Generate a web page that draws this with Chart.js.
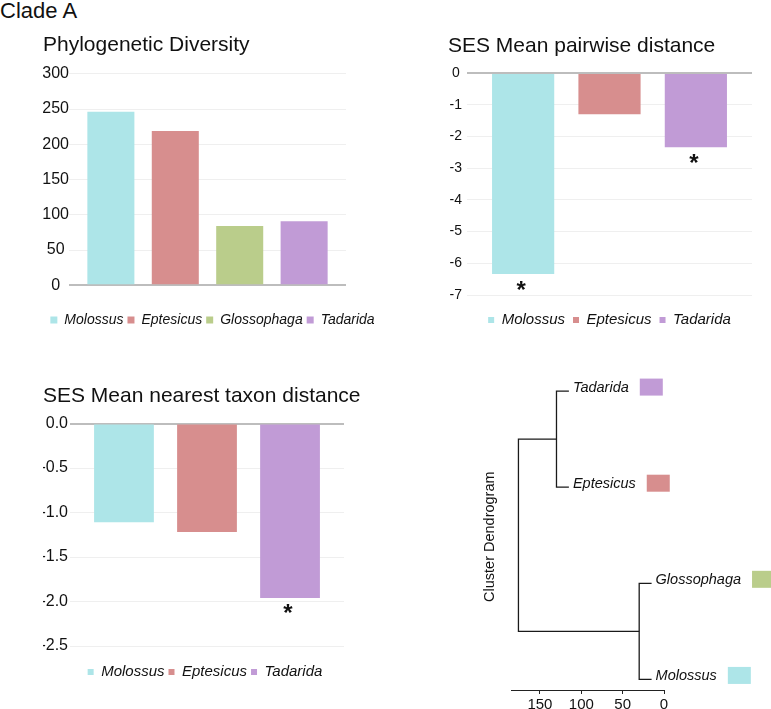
<!DOCTYPE html>
<html>
<head>
<meta charset="utf-8">
<title>Clade A</title>
<script src="https://cdn.jsdelivr.net/npm/chart.js@4.4.1/dist/chart.umd.min.js"></script>
<style>
  body { margin: 0; background: #fff; font-family: 'Liberation Sans', Arial, Helvetica, sans-serif; }
  #wrap { position: relative; width: 771px; height: 709px; overflow: hidden; }
  .panel { position: absolute; }
  #clade { position: absolute; left: 0; top: -1px; font-size: 22px; color: #111; line-height: 24px; }
</style>
</head>
<body>
<div id="wrap">
  <div id="clade">Clade A</div>
  <div class="panel" style="left:0;top:24px;width:382px;height:316px"><canvas id="pd"></canvas></div>
  <div class="panel" style="left:400px;top:24px;width:371px;height:316px"><canvas id="mpd"></canvas></div>
  <div class="panel" style="left:0;top:340px;width:367px;height:369px"><canvas id="mntd"></canvas></div>
  <div class="panel" style="left:460px;top:340px;width:311px;height:369px"><canvas id="dendro"></canvas></div>
</div>
<script>
// Phylogenetic diversity per genus
const pdGenera = ['Molossus', 'Eptesicus', 'Glossophaga', 'Tadarida'];
const pdValues = [246, 219, 84, 91];

// standardized effect sizes (asterisk = significant)
const sesGenera = ['Molossus', 'Eptesicus', 'Tadarida'];
const mpdValues = [-6.34, -1.30, -2.34];
const mpdSignificant = [true, false, true];
const mntdValues = [-1.11, -1.22, -1.96];
const mntdSignificant = [false, false, true];

// cluster dendrogram, leaves listed bottom to top
const treeLeaves = ['Molossus', 'Glossophaga', 'Eptesicus', 'Tadarida'];
const leafHeights = [15, 15, 115, 115];
// hclust style merges: negative = leaf number, positive = earlier merge
const treeMerges = [[-1, -2], [-3, -4], [1, 2]];
const mergeHeights = [30, 130, 176];

const genusColors = {
    Molossus: '#ade5e8',
    Eptesicus: '#d78e8e',
    Glossophaga: '#bacd8b',
    Tadarida: '#c19bd6'
};

const FONT = "'Liberation Sans', Arial, Helvetica, sans-serif";
Chart.defaults.font.family = FONT;
Chart.defaults.color = '#111';
Chart.defaults.animation = false;

const asteriskPlugin = {
    id: 'asterisks',
    afterDatasetsDraw(chart, args, opts) {
        const ctx = chart.ctx;
        const bars = chart.getDatasetMeta(0).data;
        ctx.save();
        ctx.font = 'bold 24px ' + FONT;
        ctx.fillStyle = '#111';
        ctx.textAlign = 'center';
        ctx.textBaseline = 'alphabetic';
        const m = ctx.measureText('*');
        const lift = (m.actualBoundingBoxAscent - m.actualBoundingBoxDescent) / 2;
        bars.forEach((bar, i) => {
            if (opts.marks && opts.marks[i]) {
                ctx.fillText('*', bar.x - 2, bar.y + 11 + lift);
            }
        });
        ctx.restore();
    }
};

const makeBarChart = (id, cfg) => {
    const colors = cfg.genera.map(g => genusColors[g]);
    return new Chart(document.getElementById(id), {
        type: 'bar',
        data: {
            datasets: [{
                data: cfg.values.map((v, i) => ({ x: i, y: v })),
                backgroundColor: colors,
                borderWidth: 0,
                barPercentage: cfg.barPct,
                categoryPercentage: 1
            }]
        },
        plugins: [asteriskPlugin],
        options: {
            responsive: true,
            maintainAspectRatio: false,
            layout: { padding: cfg.padding },
            plugins: {
                tooltip: { enabled: false },
                asterisks: { marks: cfg.marks || [] },
                title: {
                    display: true,
                    text: cfg.title,
                    align: 'start',
                    color: '#111',
                    font: { size: 21, weight: 'normal' },
                    padding: cfg.titlePad
                },
                legend: {
                    position: 'bottom',
                    labels: {
                        font: { size: cfg.legendSize, style: 'italic' },
                        color: '#111',
                        boxWidth: cfg.legendBox,
                        boxHeight: cfg.legendBox,
                        padding: cfg.legendPad,
                        generateLabels: () => cfg.genera.map((g, i) => ({
                            text: g,
                            fillStyle: genusColors[g],
                            strokeStyle: genusColors[g],
                            lineWidth: 0,
                            hidden: false,
                            index: i,
                            fontColor: '#111'
                        }))
                    }
                }
            },
            scales: {
                x: {
                    type: 'linear',
                    offset: false,
                    // bars sit a bit inside the gridlines, like the original spreadsheet chart
                    min: -0.65,
                    max: cfg.genera.length - 0.35,
                    display: true,
                    ticks: { display: false, stepSize: 1, includeBounds: false },
                    grid: { display: false },
                    border: { display: false },
                    afterFit: s => { s.height = cfg.xHeight; }
                },
                y: {
                    min: cfg.min,
                    max: cfg.max,
                    ticks: {
                        stepSize: cfg.step,
                        font: { size: cfg.tickSize },
                        color: '#111',
                        crossAlign: cfg.crossAlign,
                        padding: cfg.tickPad,
                        callback: cfg.tickFmt || (v => v)
                    },
                    grid: {
                        drawTicks: false,
                        tickLength: 0,
                        color: c => c.tick && c.tick.value === 0 ? '#bdbdbd' : '#efefef',
                        lineWidth: c => c.tick && c.tick.value === 0 ? 2 : 1
                    },
                    border: { display: false },
                    afterFit: s => { s.width = cfg.yWidth; }
                },
                yR: {
                    type: 'linear',
                    position: 'right',
                    display: true,
                    ticks: { display: false },
                    grid: { display: false },
                    border: { display: false },
                    afterFit: s => { s.width = cfg.rightWidth; }
                }
            }
        }
    });
};

makeBarChart('pd', {
    genera: pdGenera, values: pdValues, title: 'Phylogenetic Diversity',
    min: 0, max: 300, step: 50, tickSize: 16, crossAlign: 'center', tickPad: 0,
    yWidth: 26, rightWidth: 36, xHeight: 23.7, barPct: 0.73,
    padding: { left: 43, right: 0, top: 0, bottom: 3 },
    titlePad: { top: 8.6, bottom: 16 },
    legendSize: 14, legendBox: 7, legendPad: 4
});

makeBarChart('mpd', {
    genera: sesGenera, values: mpdValues, marks: mpdSignificant, title: 'SES Mean pairwise distance',
    min: -7, max: 0, step: 1, tickSize: 14, crossAlign: 'center', tickPad: 5,
    yWidth: 19, rightWidth: 19, xHeight: 9.5, barPct: 0.72,
    padding: { left: 48, right: 0, top: 0, bottom: 2.5 },
    titlePad: { top: 9.6, bottom: 14.3 },
    legendSize: 15, legendBox: 6, legendPad: 8
});

makeBarChart('mntd', {
    genera: sesGenera, values: mntdValues, marks: mntdSignificant, title: 'SES Mean nearest taxon distance',
    min: -2.5, max: 0, step: 0.5, tickSize: 16, crossAlign: 'near', tickPad: 2,
    tickFmt: v => v.toFixed(1),
    yWidth: 27, rightWidth: 23, xHeight: 14.5, barPct: 0.72,
    padding: { left: 43, right: 0, top: 0, bottom: 19.5 },
    titlePad: { top: 43.4, bottom: 14.9 },
    legendSize: 15, legendBox: 6, legendPad: 4
});

// dendrogram: turn merges into elbow segments
const nodeOf = ref => {
    if (ref < 0) {
        return { h: leafHeights[-ref - 1], y: -ref };
    }
    const [a, b] = treeMerges[ref - 1].map(nodeOf);
    return { h: mergeHeights[ref - 1], y: (a.y + b.y) / 2 };
};

const treeSegments = treeMerges.map((pair, m) => {
    const [a, b] = pair.map(nodeOf);
    const h = mergeHeights[m];
    return {
        data: [{ x: a.h, y: a.y }, { x: h, y: a.y }, { x: h, y: b.y }, { x: b.h, y: b.y }],
        showLine: true,
        borderColor: '#1a1a1a',
        borderWidth: 1.3,
        pointRadius: 0,
        tension: 0
    };
});

const leafLabelPlugin = {
    id: 'leafLabels',
    afterDatasetsDraw(chart) {
        const ctx = chart.ctx;
        const xs = chart.scales.x;
        const ys = chart.scales.y;
        ctx.save();
        ctx.font = 'italic 14.5px ' + FONT;
        ctx.textAlign = 'left';
        ctx.textBaseline = 'alphabetic';
        treeLeaves.forEach((leaf, i) => {
            const px = xs.getPixelForValue(leafHeights[i]) + 4;
            const py = ys.getPixelForValue(i + 1);
            ctx.fillStyle = '#111';
            ctx.fillText(leaf, px, py + 1);
            const w = ctx.measureText(leaf).width;
            ctx.fillStyle = genusColors[leaf];
            ctx.fillRect(px + w + 11, py - 12.5, 23, 17);
        });
        ctx.restore();
    }
};

new Chart(document.getElementById('dendro'), {
    type: 'scatter',
    data: { datasets: treeSegments },
    plugins: [leafLabelPlugin],
    options: {
        responsive: true,
        maintainAspectRatio: false,
        layout: { padding: { left: 17.3, top: 43.4, right: 107, bottom: 0 } },
        plugins: {
            legend: { display: false },
            tooltip: { enabled: false }
        },
        scales: {
            x: {
                type: 'linear',
                reverse: true,
                min: 0,
                max: 185,
                ticks: {
                    stepSize: 50,
                    includeBounds: false,
                    font: { size: 15 },
                    color: '#111',
                    padding: 2,
                    maxRotation: 0
                },
                grid: {
                    drawOnChartArea: false,
                    drawTicks: true,
                    tickLength: 4,
                    tickColor: '#222',
                    color: '#222'
                },
                border: { display: true, color: '#222', width: 1 },
                afterFit: s => { s.height = 19; }
            },
            y: {
                type: 'linear',
                min: 0.89,
                max: 4.08,
                ticks: { display: false },
                grid: { display: false },
                border: { display: false },
                title: {
                    display: true,
                    text: 'Cluster Dendrogram',
                    color: '#111',
                    font: { size: 14.5 },
                    padding: { top: 4, bottom: 4 }
                },
                afterFit: s => { s.width = 33.7; }
            }
        }
    }
});
</script>
</body>
</html>
